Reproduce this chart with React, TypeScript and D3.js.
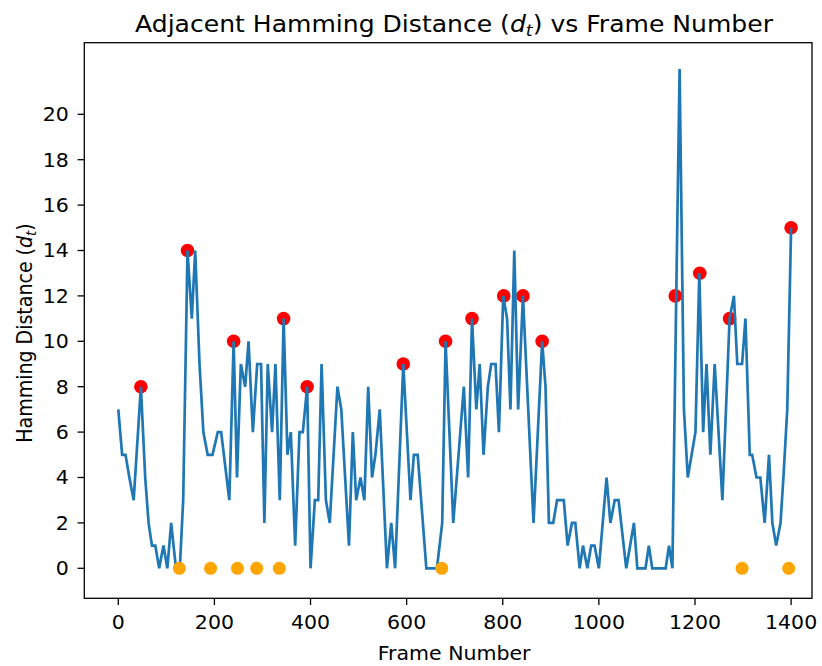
import React from "react";
import * as d3 from "d3";

const frames = [
  0, 8, 15, 23, 32, 47, 56, 63, 70, 77, 85, 94, 102, 110, 120, 128, 135, 144, 153, 160,
  169, 177, 186, 196, 207, 214, 231, 240, 247, 255, 264, 271, 280, 289, 297, 304, 311, 320,
  327, 336, 344, 352, 359, 368, 377, 384, 393, 400, 409, 416, 423, 432, 440, 456, 464, 480,
  488, 495, 504, 512, 520, 528, 535, 544, 559, 568, 576, 593, 608, 615, 623, 641, 649, 663,
  674, 681, 697, 719, 728, 736, 745, 752, 760, 769, 776, 785, 792, 801, 809, 816, 824, 832,
  842, 864, 882, 889, 896, 905, 913, 927, 935, 944, 951, 960, 967, 976, 984, 991, 1000, 1016,
  1024, 1033, 1041, 1057, 1073, 1080, 1097, 1104, 1111, 1139, 1146, 1153, 1161, 1168, 1177,
  1185, 1193, 1201, 1209, 1217, 1224, 1232, 1241, 1257, 1272, 1281, 1288, 1298, 1305, 1314,
  1319, 1328, 1336, 1345, 1354, 1361, 1369, 1378, 1384, 1392, 1400,
];
const distances = [
  7, 5, 5, 4, 3, 8, 4, 2, 1, 1, 0, 1, 0, 2, 0, 0, 3, 14, 11, 14,
  9, 6, 5, 5, 6, 6, 3, 10, 4, 9, 8, 10, 6, 9, 9, 2, 9, 6,
  9, 3, 11, 5, 6, 1, 6, 6, 8, 0, 3, 3, 9, 3, 2, 8, 7, 1,
  6, 3, 4, 3, 8, 4, 5, 7, 0, 2, 0, 9, 3, 5, 5, 0, 0, 0,
  2, 10, 2, 8, 4, 11, 7, 9, 5, 8, 9, 9, 6, 12, 11, 7, 14, 7,
  12, 2, 10, 8, 2, 2, 3, 3, 1, 2, 2, 0, 1, 0, 1, 1, 0, 4,
  2, 3, 3, 0, 2, 0, 0, 1, 0, 0, 1, 0, 12, 22, 7,
  4, 5, 6, 13, 6, 9, 5, 9, 3, 11, 12, 9, 9, 11, 5,
  5, 4, 4, 2, 5, 2, 1, 2, 4, 7, 15,
];

const peakFrames = [47, 144, 240, 344, 393, 593, 681, 736, 802, 842, 882, 1159, 1210, 1272, 1400];
const peakValues = [8, 14, 10, 11, 8, 9, 10, 11, 12, 12, 10, 12, 13, 11, 15];

const zeroFrames = [127, 192, 248, 288, 335, 673, 1298, 1395];

const xTicks = [0, 200, 400, 600, 800, 1000, 1200, 1400];
const yTicks = [0, 2, 4, 6, 8, 10, 12, 14, 16, 18, 20];

const W = 822;
const H = 666;
const left = 84.3;
const right = 812;
const top = 42.7;
const bottom = 598.3;
const SX = 1.08;

export default function App() {
  const x = d3.scaleLinear().domain([0, 1400]).range([118.3, 791.1]);
  const y = d3.scaleLinear().domain([0, 20]).range([568.3, 114.3]);
  const line = d3
    .line<number>()
    .x((_, i) => x(frames[i]))
    .y((d) => y(d));
  const font = "'DejaVu Sans', sans-serif";
  const tickSize = 19;

  return (
    <svg
      width={W}
      height={H}
      style={{ position: "absolute", left: 0, top: 0, background: "#fff" }}
      fontFamily={font}
    >
      <rect x={0} y={0} width={W} height={H} fill="#fff" />
      {peakFrames.map((f, i) => (
        <circle key={"p" + i} cx={x(f)} cy={y(peakValues[i])} r={6.8} fill="#ff0000" />
      ))}
      <path d={line(distances) || ""} fill="none" stroke="#1f77b4" strokeWidth={2.7} strokeLinejoin="miter" />
      {zeroFrames.map((f, i) => (
        <circle key={"z" + i} cx={x(f)} cy={y(0)} r={6.5} fill="#ffa500" />
      ))}
      <rect
        x={left}
        y={top}
        width={right - left}
        height={bottom - top}
        fill="none"
        stroke="#000"
        strokeWidth={1.3}
      />
      {xTicks.map((t) => (
        <g key={"xt" + t}>
          <line x1={x(t)} x2={x(t)} y1={bottom} y2={bottom + 6.7} stroke="#000" strokeWidth={1.3} />
          <text
            transform={`translate(${x(t)},629) scale(${SX},1)`}
            textAnchor="middle"
            fontSize={tickSize}
            fill="#000"
          >
            {t}
          </text>
        </g>
      ))}
      {yTicks.map((t) => (
        <g key={"yt" + t}>
          <line x1={left - 6.7} x2={left} y1={y(t)} y2={y(t)} stroke="#000" strokeWidth={1.3} />
          <text
            transform={`translate(${left - 15.5},${y(t) + 6.9}) scale(${SX},1)`}
            textAnchor="end"
            fontSize={tickSize}
            fill="#000"
          >
            {t}
          </text>
        </g>
      ))}
      <text
        transform={`translate(${(left + right) / 2 + 6},660) scale(${SX},1)`}
        textAnchor="middle"
        fontSize={tickSize}
        fill="#000"
      >
        Frame Number
      </text>
      <text
        transform={`translate(32,333) scale(${SX},1) rotate(-90)`}
        textAnchor="middle"
        fontSize={tickSize}
        fill="#000"
      >
        Hamming Distance (<tspan fontStyle="italic">d</tspan>
        <tspan fontStyle="italic" fontSize={13.5} dy={3.8}>t</tspan>
        <tspan dy={-3.8}>)</tspan>
      </text>
      <text
        transform={`translate(454,31.7) scale(1.09,1)`}
        textAnchor="middle"
        fontSize={23}
        fill="#000"
      >
        Adjacent Hamming Distance (<tspan fontStyle="italic">d</tspan>
        <tspan fontStyle="italic" fontSize={16} dy={4.6}>t</tspan>
        <tspan dy={-4.6}>) vs Frame Number</tspan>
      </text>
    </svg>
  );
}
